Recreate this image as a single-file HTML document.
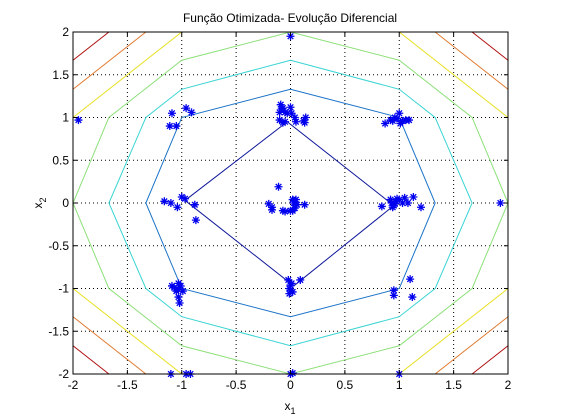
<!DOCTYPE html>
<html><head><meta charset="utf-8"><style>
html,body{margin:0;padding:0;background:#fff;}
svg{display:block;font-family:"Liberation Sans",sans-serif;}
</style></head><body>
<svg id="chart" width="561" height="420" viewBox="0 0 561 420" xmlns="http://www.w3.org/2000/svg">
<rect x="0" y="0" width="561" height="420" fill="#fff"/>
<text x="290" y="22" font-size="12" text-anchor="middle">Função Otimizada- Evolução Diferencial</text>
<g id="grid"></g>
<g id="contours"></g>
<g id="points"></g>
<rect x="73" y="32" width="435" height="342" fill="none" stroke="#000" stroke-width="1"/>
<g id="ticks"></g>
<text x="290" y="410" font-size="12" text-anchor="middle">x<tspan font-size="9" dy="4">1</tspan></text>
<text x="0" y="0" font-size="12" text-anchor="middle" transform="translate(42,203) rotate(-90)">x<tspan font-size="9" dy="4">2</tspan></text>
</svg>
<script>
const xTicks = [-2,-1.5,-1,-0.5,0,0.5,1,1.5,2];
const yTicks = [-2,-1.5,-1,-0.5,0,0.5,1,1.5,2];
const xTickLabels = ["-2","-1.5","-1","-0.5","0","0.5","1","1.5","2"];
const yTickLabels = ["-2","-1.5","-1","-0.5","0","0.5","1","1.5","2"];
const contourColors = ["#10189c","#1c74c8","#3cd4d4","#8ee07a","#e8e020","#e07a30","#b01010"];
const contourInner = [[-0.97,0.03],[-0.03,0.95],[0.95,-0.03],[0.03,-0.97],[-0.97,0.03]];
const contourBlue = [[0,1.33],[1,1],[1.33,0],[1,-1],[0,-1.33],[-1,-1],[-1.33,0],[-1,1],[0,1.33]];
const contourCyan = [[0,1.67],[1,1.33],[1.33,1],[1.67,0],[1.33,-1],[1,-1.33],[0,-1.67],[-1,-1.33],[-1.33,-1],[-1.67,0],[-1.33,1],[-1,1.33],[0,1.67]];
const contourGreen = [[0,2],[1,1.67],[1.67,1],[2,0],[1.67,-1],[1,-1.67],[0,-2],[-1,-1.67],[-1.67,-1],[-2,0],[-1.67,1],[-1,1.67],[0,2]];
const cornerYellow = [[-2,1],[-1,2]];
const cornerOrange = [[-2,1.33],[-1.33,2]];
const cornerRed = [[-2,1.67],[-1.67,2]];
const ptsX = [-1.09,-1.11,-1.05,-0.96,-0.91,
 -1.16,-1.10,-1.04,-1.0,-0.97,-0.88,-0.87,
 -0.09,-0.07,-0.10,-0.05,-0.03,0.01,-0.10,-0.05,0.04,0.05,0.12,0.14,0.13,-0.07,0.0,-0.08,
 0.87,0.94,0.98,1.0,1.01,1.03,1.06,1.09,0.96,0.92,
 -0.11,-0.2,-0.17,-0.17,-0.07,-0.05,0.02,0.06,0.02,0.05,0.03,0.04,0.0,0.13,
 0.84,0.92,0.93,0.94,0.96,0.97,1.0,1.03,1.05,1.08,1.13,1.2,0.98,0.95,
 -1.09,-1.07,-1.05,-1.03,-1.01,-0.99,-1.03,-1.02,-1.03,
 -0.02,0.0,-0.01,0.0,0.02,0.09,0.01,-0.01,
 0.95,0.95,1.1,1.12,
 -1.95,1.93,0,-1.1,-0.96,-0.92,0,0.02,1.0];
const ptsY = [1.05,0.90,0.90,1.11,1.06,
 0.02,0.0,-0.05,0.07,0.05,-0.02,-0.2,
 1.15,1.11,1.06,1.06,1.05,1.05,0.97,0.95,1.0,0.95,0.96,1.0,0.94,0.94,1.12,1.1,
 0.93,0.96,0.99,1.05,0.93,0.96,0.97,0.97,1.0,0.97,
 0.19,-0.01,-0.05,-0.08,-0.09,-0.1,-0.09,-0.02,0.04,0.04,0.0,-0.06,-0.09,-0.02,
 -0.04,0.04,0.0,-0.05,-0.01,0.02,0.04,0.0,0.06,0.0,0.07,-0.05,0.05,-0.03,
 -0.97,-0.99,-1.03,-1.01,-0.97,-1.03,-1.1,-1.17,-0.94,
 -0.9,-0.96,-1.0,-1.02,-1.04,-0.9,-0.94,-1.06,
 -1.02,-1.08,-0.89,-1.1,
 0.97,0,1.95,-2,-2,-2,-2,-1.99,-2];

const L=73,R=508,T=32,B=374;
function sx(v){return L+(v+2)/4*(R-L);}
function sy(v){return B-(v+2)/4*(B-T);}
const NS="http://www.w3.org/2000/svg";
function mk(tag,attrs,parent){const e=document.createElementNS(NS,tag);for(const k in attrs)e.setAttribute(k,attrs[k]);parent.appendChild(e);return e;}

const grid=document.getElementById('grid');
xTicks.forEach((t,i)=>{if(i===0||i===xTicks.length-1)return;
 const l=mk('line',{x1:sx(t),x2:sx(t),y1:T,y2:B,stroke:'#000','stroke-width':1,'stroke-dasharray':'1,3'},grid);
 
 });
yTicks.forEach((t,i)=>{if(i===0||i===yTicks.length-1)return;
 const l=mk('line',{x1:L,x2:R,y1:sy(t),y2:sy(t),stroke:'#000','stroke-width':1,'stroke-dasharray':'1,3'},grid);
 
 });

const cg=document.getElementById('contours');
function poly(pts,color,name){
 const p=mk('polyline',{points:pts.map(q=>sx(q[0])+','+sy(q[1])).join(' '),fill:'none',stroke:color,'stroke-width':1},cg);
 
 }
poly(contourInner,contourColors[0],'contour-level-1');
poly(contourBlue,contourColors[1],'contour-level-2');
poly(contourCyan,contourColors[2],'contour-level-3');
poly(contourGreen,contourColors[3],'contour-level-4');
[[cornerYellow,4,'contour-level-5'],[cornerOrange,5,'contour-level-6'],[cornerRed,6,'contour-level-7']].forEach(([c,ci,n])=>{
 [[1,1],[-1,1],[1,-1],[-1,-1]].forEach(([fx,fy])=>{
  poly(c.map(q=>[q[0]*fx,q[1]*fy]),contourColors[ci],n);});});

const pg=document.getElementById('points');
for(let i=0;i<ptsX.length;i++){
 const x=sx(ptsX[i]),y=sy(ptsY[i]),r=4,d=2.8;
 const p=mk('path',{d:`M${x-r},${y}H${x+r}M${x},${y-r}V${y+r}M${x-d},${y-d}L${x+d},${y+d}M${x-d},${y+d}L${x+d},${y-d}`,stroke:'#0000ee','stroke-width':1.3,fill:'none'},pg);
 
 }

const tg=document.getElementById('ticks');
xTicks.forEach((t,i)=>{
 mk('line',{x1:sx(t),x2:sx(t),y1:B,y2:B-4,stroke:'#000'},tg);
 mk('line',{x1:sx(t),x2:sx(t),y1:T,y2:T+4,stroke:'#000'},tg);
 const tx=mk('text',{x:sx(t),y:B+15,'font-size':12,'text-anchor':'middle'},tg);
 tx.textContent=xTickLabels[i];
 
 });
yTicks.forEach((t,i)=>{
 mk('line',{x1:L,x2:L+4,y1:sy(t),y2:sy(t),stroke:'#000'},tg);
 mk('line',{x1:R,x2:R-4,y1:sy(t),y2:sy(t),stroke:'#000'},tg);
 const tx=mk('text',{x:L-4,y:sy(t)+4,'font-size':12,'text-anchor':'end'},tg);
 tx.textContent=yTickLabels[i];
 
 });
</script>
</body></html>
